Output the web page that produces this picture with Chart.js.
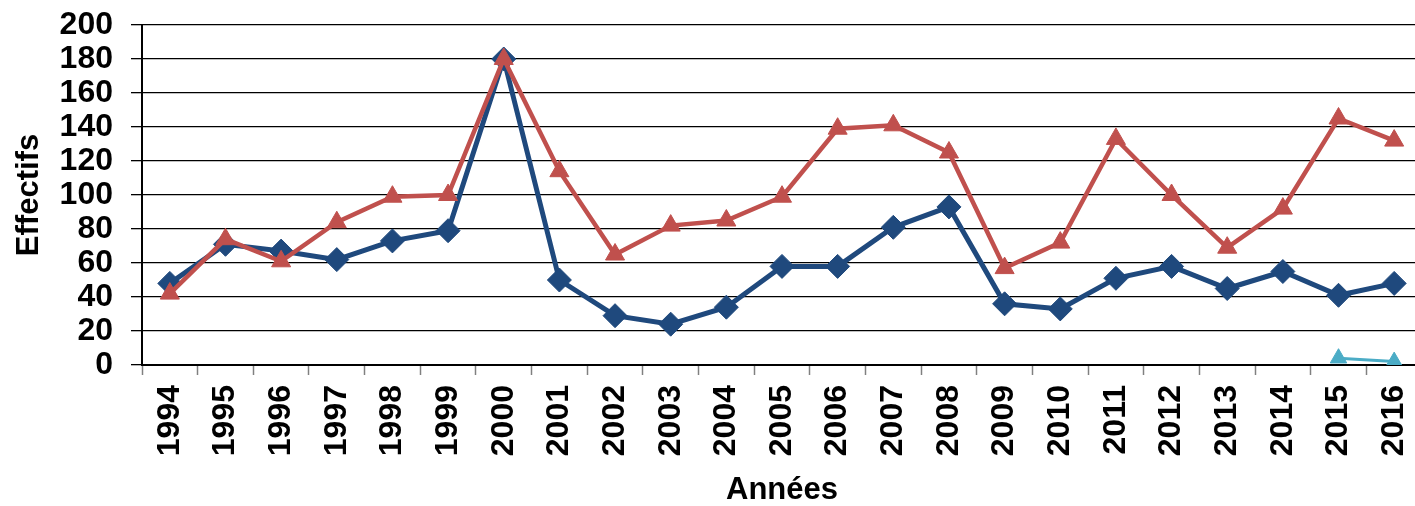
<!DOCTYPE html>
<html lang="fr">
<head>
<meta charset="utf-8">
<title>Effectifs par année</title>
<script src="https://cdn.jsdelivr.net/npm/chart.js@4/dist/chart.umd.min.js"></script>
<style>
  html, body { margin: 0; padding: 0; background: #fff; overflow: hidden; }
  #graf { display: block; }
</style>
</head>
<body>
<canvas id="graf" width="1435" height="506"></canvas>
<script>
const annees = ["1994", "1995", "1996", "1997", "1998", "1999", "2000", "2001", "2002", "2003", "2004",
  "2005", "2006", "2007", "2008", "2009", "2010", "2011", "2012", "2013", "2014", "2015", "2016"];
const serieBleue = [48, 71, 67, 62, 73, 79, 180, 50, 29, 24, 34, 58, 58, 81, 93, 36, 33, 51, 58, 45, 55, 41, 48];
const serieRouge = [42, 74, 61, 84, 99, 100, 180, 114, 65, 82, 85, 99, 139, 141, 125, 57, 72, 133, 100, 69, 92, 145, 132];
const serieCyan = [null, null, null, null, null, null, null, null, null, null, null,
  null, null, null, null, null, null, null, null, null, null, 4, 2];
const yMin = 0;
const yMax = 200;
const yPas = 20;

const police = "'Liberation Sans', Arial, sans-serif";

// on enlève les marges automatiques des axes, la zone du graphe est fixée à la main
function sansMarges(scale) {
  scale.paddingTop = 0;
  scale.paddingBottom = 0;
  scale.paddingLeft = 0;
  scale.paddingRight = 0;
}

const ctx = document.getElementById("graf").getContext("2d");

new Chart(ctx, {
  type: "line",
  data: {
    labels: annees,
    datasets: [
      {
        data: serieBleue,
        borderColor: "#1f497d",
        backgroundColor: "#1f497d",
        borderWidth: 5,
        pointStyle: "rectRot",
        pointRadius: 12,
        pointBorderWidth: 1,
        tension: 0,
        order: 2
      },
      {
        data: serieRouge,
        borderColor: "#c0504d",
        backgroundColor: "#c0504d",
        borderWidth: 4.5,
        pointStyle: "triangle",
        pointRadius: 11,
        pointBorderWidth: 1,
        tension: 0,
        order: 1
      },
      {
        data: serieCyan,
        borderColor: "#4bacc6",
        backgroundColor: "#4bacc6",
        borderWidth: 3,
        pointStyle: "triangle",
        pointRadius: 9.5,
        pointBorderWidth: 1,
        tension: 0,
        order: 0
      }
    ]
  },
  options: {
    responsive: false,
    animation: false,
    layout: { padding: { top: 25, right: 1, left: 0, bottom: 0 } },
    plugins: {
      legend: { display: false },
      tooltip: { enabled: false }
    },
    scales: {
      x: {
        offset: true,
        afterFit: (scale) => { scale.height = 141; sansMarges(scale); },
        grid: {
          offset: true,
          drawOnChartArea: false,
          tickLength: 10,
          tickColor: "#808080",
          tickWidth: 1.5
        },
        border: { color: "#000", width: 2 },
        ticks: {
          minRotation: 90,
          maxRotation: 90,
          autoSkip: false,
          padding: 10,
          color: "#000",
          font: { family: police, size: 32, weight: "bold" }
        },
        title: {
          display: true,
          text: "Années",
          color: "#000",
          padding: { top: 0, bottom: 0 },
          font: { family: police, size: 31, weight: "bold", lineHeight: 1 }
        }
      },
      y: {
        min: yMin,
        max: yMax,
        afterFit: (scale) => { scale.width = 142; sansMarges(scale); },
        grid: {
          color: "#000",
          lineWidth: 1.3,
          tickLength: 11,
          tickColor: "#000"
        },
        border: { color: "#000", width: 2 },
        ticks: {
          stepSize: yPas,
          autoSkip: false,
          padding: 18,
          color: "#000",
          font: { family: police, size: 32, weight: "bold" }
        },
        title: {
          display: true,
          text: "Effectifs",
          color: "#000",
          padding: { top: 14, bottom: 0 },
          font: { family: police, size: 31, weight: "bold", lineHeight: 1 }
        }
      }
    }
  }
});
</script>
</body>
</html>
